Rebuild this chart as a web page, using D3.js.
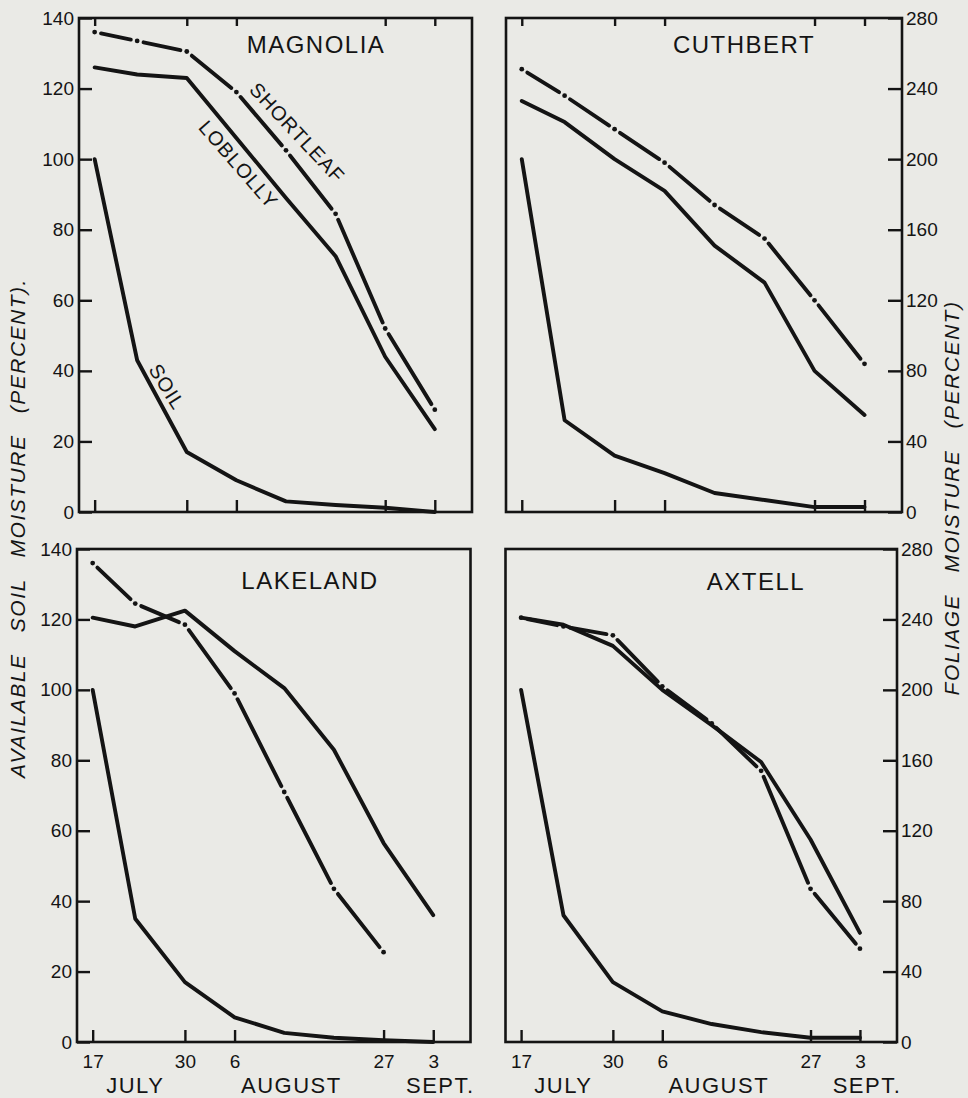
<!DOCTYPE html>
<html>
<head>
<meta charset="utf-8">
<script src="https://cdn.jsdelivr.net/npm/d3@7.9.0/dist/d3.min.js"></script>
<style>
  body { margin: 0; background: #eaeae6; }
  svg { display: block; font-family: "Liberation Sans", Arial, sans-serif; fill: #141414; }
  .frame { fill: none; stroke: #141414; stroke-width: 2.6; }
  .axis line { stroke: #141414; stroke-width: 2.4; }
  .axis text { font-size: 19px; fill: #141414; font-family: "Liberation Sans", Arial, sans-serif; }
  .series { fill: none; stroke: #141414; stroke-width: 3.9; stroke-linejoin: round; stroke-linecap: round; }
  .title { font-size: 24px; letter-spacing: 1.5px; }
  .date { font-size: 21px; }
  .month { font-size: 22px; letter-spacing: 1.5px; }
  .lbl { font-size: 20px; letter-spacing: 1px; }
  .ylab { font-size: 21px; font-style: italic; letter-spacing: 1.5px; word-spacing: 14px; }
</style>
</head>
<body>
<svg width="968" height="1098"></svg>
<script>
// sampling dates (weekly) and axis ticks
const sampleDates = ['Jul 17', 'Jul 23', 'Jul 30', 'Aug 6', 'Aug 13', 'Aug 20', 'Aug 27', 'Sep 3'];
const tickDates = ['Jul 17', 'Jul 30', 'Aug 6', 'Aug 27', 'Sep 3'];
const tickLabels = ['17', '30', '6', '27', '3'];
const monthDates = ['Jul 23', 'Aug 14', 'Sep 4'];
const monthLabels = ['JULY', 'AUGUST', 'SEPT.'];
const soilTicks = [0, 20, 40, 60, 80, 100, 120, 140];
const foliageTicks = [0, 40, 80, 120, 160, 200, 240, 280];

// available soil moisture (percent, left axis)
const magnoliaSoil = [100, 43, 17, 9, 3, 2, 1.2, 0];
const cuthbertSoil = [100, 26, 16, 11, 5.4, 3.4, 1.4, 1.4];
const lakelandSoil = [100, 35, 17, 7, 2.6, 1.2, 0.5, 0];
const axtellSoil = [100, 36, 17, 8.7, 5.1, 2.8, 1.2, 1.2];

// foliage moisture (percent, right axis)
const magnoliaLoblolly = [252, 248, 246, 212, 178, 145, 88, 47];
const magnoliaShortleaf = [272, 267, 261, 238, 205, 169, 104, 58];
const cuthbertLoblolly = [233, 221, 200, 182, 151, 130, 80, 55];
const cuthbertShortleaf = [251, 236, 217, 198, 174, 155, 120, 84];
const lakelandLoblolly = [241, 236, 245, 222, 201, 166, 113, 72];
const lakelandShortleaf = [272, 249, 237, 198, 142, 87, 51, null];
const axtellLoblolly = [241, 237, 225, 200, 180, 159, 115, 62];
const axtellShortleaf = [241, 236, 231, 202, 181, 154, 87, 53];

const sites = ['MAGNOLIA', 'CUTHBERT', 'LAKELAND', 'AXTELL'];

// curve labels drawn in the Magnolia panel
const curveLabels = ['SHORTLEAF', 'LOBLOLLY', 'SOIL'];
const curveLabelDays = [28.6, 20.3, 10.2];
const curveLabelValues = [215, 197, 35.5];
const curveLabelScale = ['foliage', 'foliage', 'soil'];
const curveLabelAngles = [47, 49, 58];

const parse = d3.timeParse('%b %d');
const start = parse('Jul 17');
const day = n => d3.timeHour.offset(start, Math.round(n * 24));

const panels = [
  { site: sites[0], soil: magnoliaSoil, lob: magnoliaLoblolly, short: magnoliaShortleaf,
    x0: 79, x1: 472, y0: 18, y1: 512, side: 'left', top: true, dates: false, tx: 316, ty: 45 },
  { site: sites[1], soil: cuthbertSoil, lob: cuthbertLoblolly, short: cuthbertShortleaf,
    x0: 506, x1: 902, y0: 18, y1: 512, side: 'right', top: true, dates: false, tx: 744, ty: 45 },
  { site: sites[2], soil: lakelandSoil, lob: lakelandLoblolly, short: lakelandShortleaf,
    x0: 77, x1: 470.5, y0: 549, y1: 1042, side: 'left', top: false, dates: true, tx: 310, ty: 581 },
  { site: sites[3], soil: axtellSoil, lob: axtellLoblolly, short: axtellShortleaf,
    x0: 505.5, x1: 897, y0: 549, y1: 1042, side: 'right', top: false, dates: true, tx: 756, ty: 582 }
];

const svg = d3.select('svg');

panels.forEach((p, pi) => {
  const x = d3.scaleTime().domain([day(-2.2), day(53.27)]).range([p.x0, p.x1]);
  const ySoil = d3.scaleLinear().domain([0, 140]).range([p.y1, p.y0]);
  const yFol = d3.scaleLinear().domain([0, 280]).range([p.y1, p.y0]);
  const g = svg.append('g');

  // y axis, ticks pointing inward
  if (p.side === 'left') {
    g.append('g').attr('class', 'axis').attr('transform', `translate(${p.x0},0)`)
      .call(d3.axisLeft(ySoil).tickValues(soilTicks).tickSizeInner(-13).tickSizeOuter(0).tickPadding(5))
      .call(a => a.select('.domain').remove());
  } else {
    g.append('g').attr('class', 'axis').attr('transform', `translate(${p.x1},0)`)
      .call(d3.axisRight(yFol).tickValues(foliageTicks).tickSizeInner(-14).tickSizeOuter(0).tickPadding(4))
      .call(a => a.select('.domain').remove());
  }

  // bottom date ticks
  const xb = g.append('g').attr('class', 'axis').attr('transform', `translate(0,${p.y1})`)
    .call(d3.axisBottom(x).tickValues(tickDates.map(parse)).tickSizeInner(-12).tickSizeOuter(0).tickPadding(13)
      .tickFormat((d, i) => p.dates ? tickLabels[i] : ''))
    .call(a => a.select('.domain').remove());
  xb.selectAll('text').attr('class', 'date');

  if (p.top) {
    g.append('g').attr('class', 'axis').attr('transform', `translate(0,${p.y0})`)
      .call(d3.axisTop(x).tickValues(tickDates.map(parse)).tickSizeInner(-8).tickSizeOuter(0).tickFormat(''))
      .call(a => a.select('.domain').remove());
  }

  if (p.dates) {
    g.selectAll('.month').data(monthLabels).join('text')
      .attr('class', 'month')
      .attr('x', (d, i) => x(parse(monthDates[i])))
      .attr('y', p.y1 + 51)
      .attr('text-anchor', 'middle')
      .text(d => d);
  }

  g.append('rect').attr('class', 'frame')
    .attr('x', p.x0).attr('y', p.y0)
    .attr('width', p.x1 - p.x0).attr('height', p.y1 - p.y0);

  g.append('text').attr('class', 'title')
    .attr('x', p.tx).attr('y', p.ty).attr('dy', '0.35em')
    .attr('text-anchor', 'middle').text(p.site);

  const dates = sampleDates.map(parse);

  // soil and loblolly: solid lines
  const soilLine = d3.line().x((d, i) => x(dates[i])).y(d => ySoil(d));
  const folLine = d3.line().defined(d => d != null).x((d, i) => x(dates[i])).y(d => yFol(d));
  g.append('path').attr('class', 'series').attr('d', soilLine(p.soil));
  g.append('path').attr('class', 'series').attr('d', folLine(p.lob));

  // shortleaf: segments broken at each observation, with a dot there
  const pts = p.short.map((v, i) => v == null ? null : [x(dates[i]), yFol(v)]).filter(d => d);
  const gap = 6.5;
  const segs = d3.pairs(pts).map(([a, b]) => {
    const dx = b[0] - a[0], dy = b[1] - a[1], len = Math.hypot(dx, dy);
    const ux = dx / len, uy = dy / len;
    return [[a[0] + ux * gap, a[1] + uy * gap], [b[0] - ux * gap, b[1] - uy * gap]];
  });
  g.selectAll('.seg').data(segs).join('path')
    .attr('class', 'series seg')
    .attr('d', d => d3.line()(d));
  g.selectAll('.dot').data(pts).join('circle')
    .attr('class', 'dot')
    .attr('cx', d => d[0]).attr('cy', d => d[1]).attr('r', 2.4);

  if (pi === 0) {
    curveLabels.forEach((t, i) => {
      const cx = x(day(curveLabelDays[i]));
      const cy = curveLabelScale[i] === 'soil' ? ySoil(curveLabelValues[i]) : yFol(curveLabelValues[i]);
      g.append('text').attr('class', 'lbl')
        .attr('transform', `translate(${cx},${cy}) rotate(${curveLabelAngles[i]})`)
        .attr('text-anchor', 'middle').attr('dy', '0.35em')
        .text(t);
    });
  }
});

// outer axis titles
svg.append('text').attr('class', 'ylab')
  .attr('transform', 'translate(18,528) rotate(-90)')
  .attr('text-anchor', 'middle').attr('dy', '0.35em')
  .text('AVAILABLE SOIL MOISTURE (PERCENT).');

svg.append('text').attr('class', 'ylab')
  .attr('transform', 'translate(952,498) rotate(-90)')
  .attr('text-anchor', 'middle').attr('dy', '0.35em')
  .text('FOLIAGE MOISTURE (PERCENT)');
</script>
</body>
</html>
